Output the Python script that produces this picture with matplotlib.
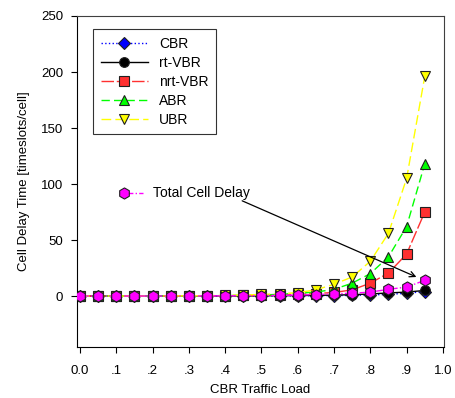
import matplotlib
import numpy as np

matplotlib.use('Agg')
from matplotlib import pyplot as plt

plt.rcParams['font.family'] = ['Liberation Sans', 'DejaVu Sans']

# CBR traffic load (x)
load = [0.0, 0.05, 0.1, 0.15, 0.2, 0.25, 0.3, 0.35, 0.4, 0.45,
        0.5, 0.55, 0.6, 0.65, 0.7, 0.75, 0.8, 0.85, 0.9, 0.95]

# cell delay per class [timeslots/cell]
cbr = [0, 0, 0, 0, 0, 0, 0, 0, 0, 0.1,
       0.1, 0.2, 0.2, 0.3, 0.4, 0.6, 1.0, 1.5, 2.5, 4.0]
rt_vbr = [0, 0, 0, 0, 0, 0, 0, 0, 0.1, 0.1,
          0.2, 0.3, 0.4, 0.6, 0.8, 1.2, 1.8, 2.8, 3.5, 5.0]
nrt_vbr = [0, 0, 0, 0, 0, 0, 0.1, 0.2, 0.3, 0.5,
           0.7, 1.0, 1.5, 2.2, 3.2, 5.5, 11.5, 20.5, 37.5, 75]
abr = [0, 0, 0, 0, 0, 0, 0.1, 0.2, 0.4, 0.6,
       1.0, 1.5, 2.5, 3.5, 6.0, 11.5, 20, 35, 62, 118]
ubr = [0, 0, 0, 0, 0, 0.1, 0.2, 0.4, 0.6, 0.9,
       1.4, 2.0, 3.0, 5.5, 10.5, 17, 31, 56, 105, 196]
total = [0, 0, 0, 0, 0, 0, 0, 0.1, 0.2, 0.3,
         0.4, 0.6, 0.9, 1.3, 2.0, 2.5, 3.5, 6.0, 8.0, 14]

x_ticks = [0.0, 0.1, 0.2, 0.3, 0.4, 0.5, 0.6, 0.7, 0.8, 0.9, 1.0]
x_labels = ['0.0', '.1', '.2', '.3', '.4', '.5', '.6', '.7', '.8', '.9', '1.0']
y_ticks = [0, 50, 100, 150, 200, 250]

fig = plt.figure(figsize=(4.55, 3.98), dpi=100)
ax = fig.add_axes([77 / 455, 1 - 347 / 398, (444 - 77) / 455, (347 - 16) / 398])

ms = 7
edge = '#202020'
series = [
    (cbr, 'CBR', '#0000ff', ':', 'D', ms - 1),
    (rt_vbr, 'rt-VBR', 'black', '-', 'o', ms),
    (nrt_vbr, 'nrt-VBR', '#ff3030', (0, (9, 2)), 's', ms),
    (abr, 'ABR', '#00ff00', (0, (6, 3)), '^', ms),
    (ubr, 'UBR', '#ffff00', (0, (7, 3)), 'v', ms),
]
handles = []
for vals, lab, col, ls, mk, size in series:
    ln, = ax.plot(load, vals, color=col, ls=ls, lw=1, marker=mk,
                  markersize=size, markerfacecolor=col,
                  markeredgecolor=edge, markeredgewidth=0.8, label=lab)
    handles.append(ln)

ax.plot(load, total, color='#ff00ff', ls='-.', lw=1, marker='h',
        markersize=ms + 1, markerfacecolor='#ff00ff',
        markeredgecolor=edge, markeredgewidth=0.8, zorder=5)

leg = ax.legend(handles=handles, loc='upper left',
                bbox_to_anchor=(16 / 367, (347 - 29) / 331),
                fontsize=10, frameon=True, fancybox=False,
                edgecolor='black', handlelength=3.4, handletextpad=0.8,
                labelspacing=0.36, borderpad=0.55, borderaxespad=0)
leg.get_frame().set_linewidth(0.8)

# annotation for total delay curve
ax.plot([0.122, 0.175], [92, 92], color='#ff00ff', ls='-.', lw=1,
        marker='h', markersize=ms + 1, markerfacecolor='#ff00ff',
        markeredgecolor=edge, markeredgewidth=0.8, markevery=[0])
ax.text(0.2, 92, 'Total Cell Delay', fontsize=10, va='center')
ax.annotate('', xy=(0.934, 16), xytext=(0.44, 86),
            arrowprops=dict(arrowstyle='->', color='black', lw=0.9))

ax.set_xlim(-0.008, 1.003)
ax.set_ylim(-45.5, 250)
ax.set_xticks(x_ticks)
ax.set_xticklabels(x_labels)
ax.set_yticks(y_ticks)
ax.tick_params(direction='out', labelsize=9.5, length=4, width=0.8, pad=6)
ax.tick_params(axis='x', pad=9)
for sp in ax.spines.values():
    sp.set_linewidth(0.8)
ax.spines['top'].set_color('#404040')
ax.spines['right'].set_color('#404040')

ax.set_xlabel('CBR Traffic Load', fontsize=9.5, labelpad=5)
ax.set_ylabel('Cell Delay Time [timeslots/cell]', fontsize=9.5, labelpad=8)

fig.savefig('out.png', dpi=100)
